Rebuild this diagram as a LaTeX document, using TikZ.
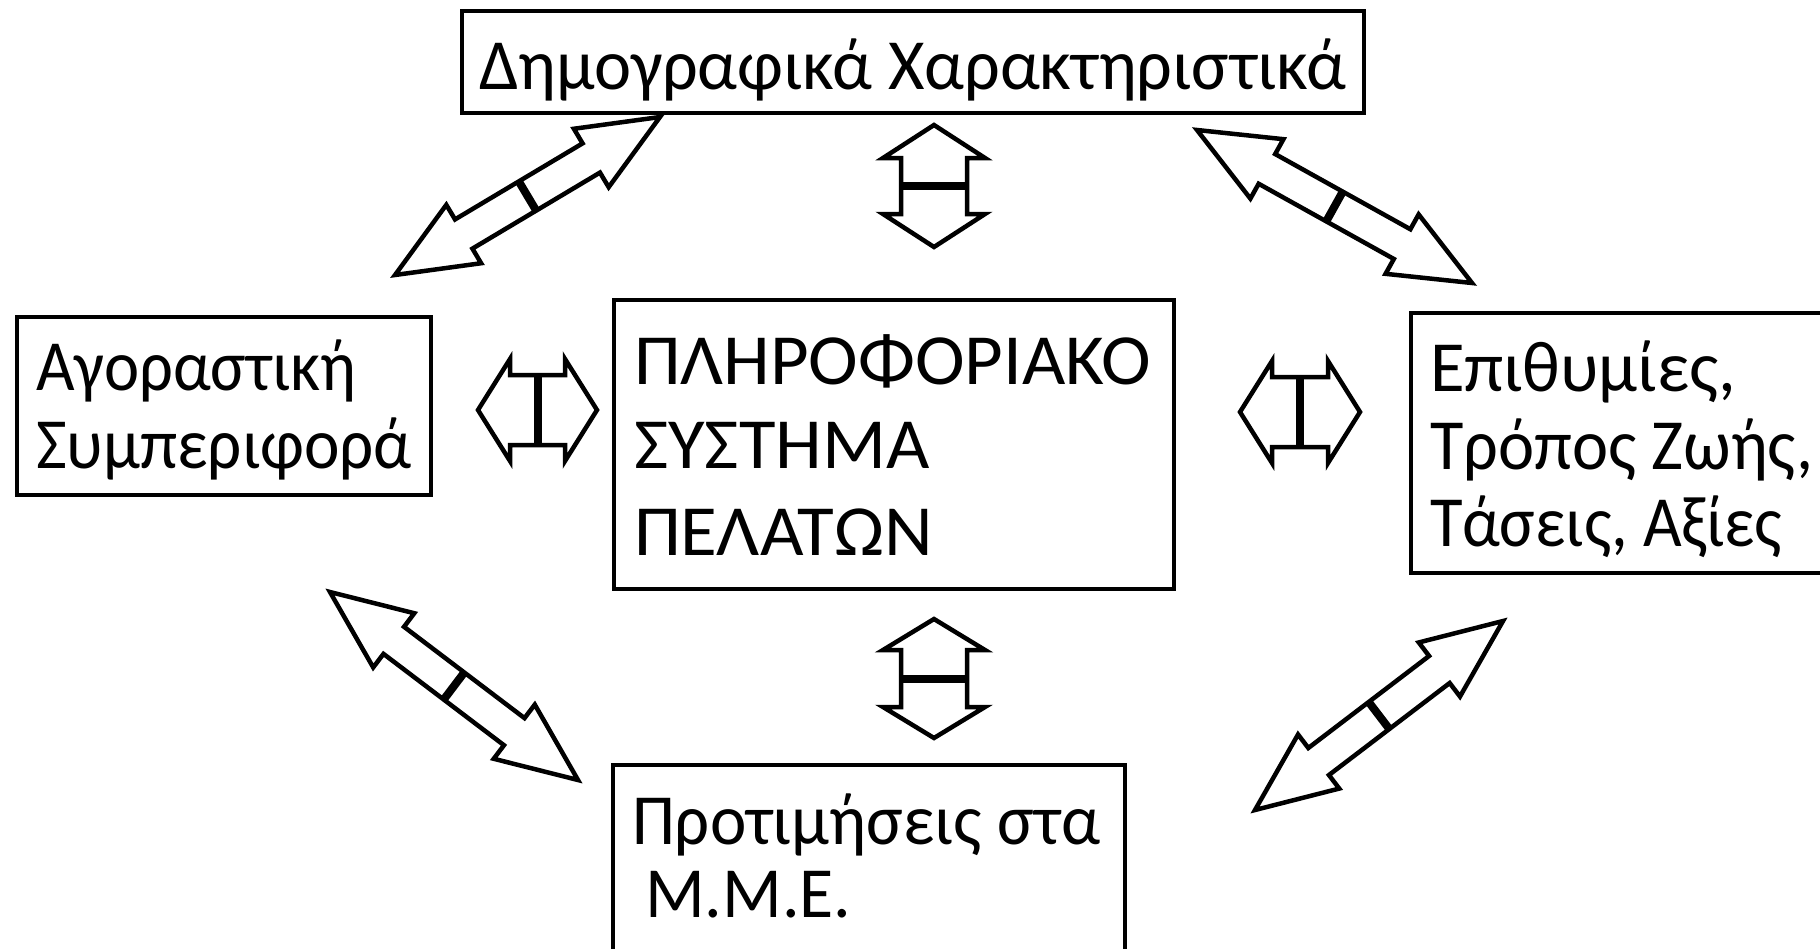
\documentclass[tikz,border=0pt]{standalone}
\usepackage{fontspec}
\usepackage{graphicx}
\setmainfont{Carlito}
\usetikzlibrary{calc}
\tikzset{
  box/.style={draw, line width=4.5pt, rectangle, inner sep=0pt, outer sep=0pt},
  txt/.style={anchor=base west, inner sep=0pt, outer sep=0pt, font=\fontsize{72}{86}\selectfont},
  arrshape/.style={draw, line width=4.5pt, fill=white, line join=miter},
  midbar/.style={draw, line width=8pt},
}
\newcommand{\hs}[2]{\scalebox{#1}[1]{#2}}
% #1,#2 tip coordinates; #3 shaft half-width; #4 head half-width; #5 head length
\newcommand{\dblarr}[5]{%
  \path[arrshape] let \p1=($(#2)-(#1)$), \n1={veclen(\x1,\y1)/2}, \n2={atan2(\y1,\x1)},
      \p2=($(#1)!0.5!(#2)$) in [shift={(\p2)}, rotate=\n2]
    (0pt,#3pt) -- ({\n1-#5pt},#3pt) -- ({\n1-#5pt},#4pt) -- (\n1,0pt)
      -- ({\n1-#5pt},-#4pt) -- ({\n1-#5pt},-#3pt) -- (0pt,-#3pt) -- cycle
    (0pt,#3pt) -- ({-\n1+#5pt},#3pt) -- ({-\n1+#5pt},#4pt) -- (-\n1,0pt)
      -- ({-\n1+#5pt},-#4pt) -- ({-\n1+#5pt},-#3pt) -- (0pt,-#3pt) -- cycle;
  \path[midbar] let \p1=($(#2)-(#1)$), \n2={atan2(\y1,\x1)},
      \p2=($(#1)!0.5!(#2)$) in [shift={(\p2)}, rotate=\n2]
    (0pt,#3pt) -- (0pt,-#3pt);
}
\begin{document}
\begin{tikzpicture}[x=1pt,y=-1pt]
\useasboundingbox (0,0) rectangle (1820,948);
\clip (0,0) rectangle (1820,948);

% boxes
\node[box, minimum width=902pt, minimum height=102pt] (top) at (913,62) {};
\node[box, minimum width=414pt, minimum height=178pt] (left) at (224,406) {};
\node[box, minimum width=560pt, minimum height=289pt] (center) at (894,444.5) {};
\node[box, minimum width=440pt, minimum height=260pt] (right) at (1631,443) {};
\node[box, minimum width=512pt, minimum height=200pt] (bottom) at (869,865) {};

% texts
\node[txt] (ttop) at (479,89) {\hs{0.976}{Δημογραφικά Χαρακτηριστικά}};
\node[txt] (tl1) at (36,390) {\hs{0.925}{Αγοραστική}};
\node[txt] (tl2) at (36,468) {\hs{0.933}{Συμπεριφορά}};
\node[txt] (tc1) at (634,384) {\hs{1.04}{ΠΛΗΡΟΦΟΡΙΑΚΟ}};
\node[txt] (tc2) at (634,468) {\hs{1.04}{ΣΥΣΤΗΜΑ}};
\node[txt] (tc3) at (634,555) {\hs{1.045}{ΠΕΛΑΤΩΝ}};
\node[txt] (tr1) at (1430,391) {\hs{0.984}{Επιθυμίες,}};
\node[txt] (tr2) at (1430,469) {\hs{0.95}{Τρόπος Ζωής,}};
\node[txt] (tr3) at (1430,546) {\hs{0.927}{Τάσεις, Αξίες}};
\node[txt] (tb1) at (632,844) {\hs{0.957}{Προτιμήσεις στα}};
\node[txt] (tb2) at (645,917) {\hs{0.97}{Μ.Μ.Ε.}};

% arrow tips
\coordinate (v1a) at (934,125);  \coordinate (v1b) at (934,247);
\coordinate (v2a) at (934,619);  \coordinate (v2b) at (934,738);
\coordinate (h1a) at (478,410);  \coordinate (h1b) at (597,410);
\coordinate (h2a) at (1240,412); \coordinate (h2b) at (1360,412);
\coordinate (d1a) at (395,275);  \coordinate (d1b) at (660,117);
\coordinate (d2a) at (1197,130); \coordinate (d2b) at (1472,283);
\coordinate (d3a) at (330,592);  \coordinate (d3b) at (578,780);
\coordinate (d4a) at (1255,810); \coordinate (d4b) at (1503,621);

\dblarr{v1a}{v1b}{33}{51}{33}
\dblarr{v2a}{v2b}{33}{51}{31}
\dblarr{h1a}{h1b}{35}{51}{32}
\dblarr{h2a}{h2b}{35}{51}{32}
\dblarr{d1a}{d1b}{17}{34}{80}
\dblarr{d2a}{d2b}{17}{34}{80}
\dblarr{d3a}{d3b}{17}{34}{80}
\dblarr{d4a}{d4b}{17}{34}{80}
\end{tikzpicture}
\end{document}
